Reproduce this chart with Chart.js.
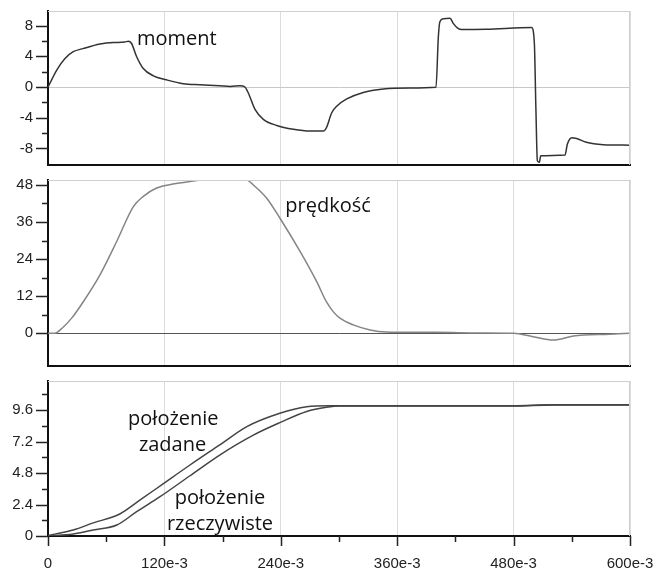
<!DOCTYPE html>
<html>
<head>
<meta charset="utf-8">
<script src="https://cdn.jsdelivr.net/npm/chart.js@4.4.0/dist/chart.umd.min.js"></script>
<style>
  body { margin: 0; background: #fff; }
  #wrap { position: relative; width: 655px; height: 571px; }
  canvas { position: absolute; left: 0; }
</style>
</head>
<body>
<div id="wrap">
  <canvas id="c1" width="655" height="170" style="top:0px"></canvas>
  <canvas id="c2" width="655" height="200" style="top:170px"></canvas>
  <canvas id="c3" width="655" height="201" style="top:370px"></canvas>
</div>
<script>
// time in ms (x axis labelled as e-3)
const xTicks = [0, 60, 120, 180, 240, 300, 360, 420, 480, 540, 600];

// moment
const momentT = [0, 4, 9, 17.5, 26, 36, 53.6, 67, 79, 82.8, 86, 91.4, 98, 108.6, 122, 139.5, 156.7, 177, 188, 198, 203,
  206.5, 213.4, 222, 235.8, 253, 270, 284, 287, 292.5, 297.6, 308, 325, 345.7, 373, 400, 402.4, 404, 407.6, 414.4,
  418, 422, 426.5, 452, 498.6, 501.4, 503, 504.5, 506.5, 508, 533, 535.4, 540, 545, 555, 572.5, 600];
const momentV = [0, 1.0, 2.2, 3.7, 4.6, 5.0, 5.6, 5.8, 5.85, 5.97, 5.7, 3.95, 2.45, 1.46, 0.94, 0.43, 0.3, 0.17, 0.08, 0.17, 0,
  -0.77, -2.9, -4.2, -5.0, -5.5, -5.73, -5.73, -5.3, -3.35, -2.5, -1.55, -0.7, -0.26, -0.13, -0.03, 6.5, 8.5, 8.9, 8.94,
  8.26, 7.7, 7.48, 7.52, 7.74, 5.7, -2.9, -9.6, -9.8, -8.95, -8.86, -7.45, -6.6, -6.7, -7.2, -7.5, -7.57];
const momentTicks = [-8, -6, -4, -2, 0, 2, 4, 6, 8];
const momentLabels = [-8, -4, 0, 4, 8];

// prędkość
const speedT = [0, 7, 15, 24.4, 36.4, 53.6, 70.8, 88, 98.3, 112, 129, 153, 170, 200, 205, 211.7, 225.5, 239, 260, 277,
  287, 294, 301, 314.7, 332, 349, 375, 400, 445, 480, 500, 521, 541.6, 579, 600];
const speedV = [0, 0, 1.8, 4.9, 10.2, 18.9, 29.7, 41, 44.3, 47, 48.3, 49.4, 50.2, 50.2, 49.7, 48, 43.7, 37.3, 26.4, 16.7,
  10.2, 7.0, 4.9, 2.7, 1.07, 0.4, 0.3, 0.3, 0.1, 0, -1.1, -2.2, -0.9, -0.3, 0];
const speedTicks = [0, 6, 12, 18, 24, 30, 36, 42, 48];
const speedLabels = [0, 12, 24, 36, 48];

// położenie zadane / rzeczywiste
const posSetT = [0, 2, 26, 46.7, 74, 95, 119, 146, 177, 205, 239, 266.7, 290, 301, 480, 520, 600];
const posSetV = [0, 0.05, 0.46, 1.0, 1.68, 2.75, 4.0, 5.4, 6.95, 8.35, 9.37, 9.87, 9.95, 9.95, 9.95, 10.02, 10.02];
const posActT = [0, 26, 46.7, 71, 91.4, 115.5, 146, 177, 211.7, 239, 266.7, 287, 301, 480, 520, 600];
const posActV = [0, 0.15, 0.46, 0.84, 1.86, 3.0, 4.58, 6.18, 7.7, 8.65, 9.5, 9.82, 9.92, 9.92, 10.0, 10.0];
const posTicks = [0, 1.2, 2.4, 3.6, 4.8, 6.0, 7.2, 8.4, 9.6, 10.8];
const posLabels = [0, 2.4, 4.8, 7.2, 9.6];

const pts = (t, v) => t.map((x, i) => ({ x: x, y: v[i] }));
const tickFont = { family: 'Liberation Sans', size: 15 };
const noPad = s => { s.paddingTop = 0; s.paddingBottom = 0; s.paddingLeft = 0; s.paddingRight = 0; };

// frame, small ticks and the text notes
const frame = {
  id: 'frame',
  afterDraw(chart, args, opts) {
    const { ctx, chartArea: a, scales } = chart;
    ctx.save();
    ctx.strokeStyle = '#cfcfcf';
    ctx.lineWidth = 1;
    ctx.beginPath();
    ctx.moveTo(a.left, a.top + 0.5); ctx.lineTo(a.right, a.top + 0.5);
    ctx.moveTo(a.right - 0.5, a.top); ctx.lineTo(a.right - 0.5, a.bottom);
    ctx.stroke();

    ctx.strokeStyle = '#222';
    ctx.lineWidth = 1.5;
    ctx.beginPath();
    scales.y.ticks.forEach(t => {
      const y = Math.round(scales.y.getPixelForValue(t.value)) + 0.5;
      const len = t.label !== '' ? 12 : 6;
      ctx.moveTo(a.left - len, y); ctx.lineTo(a.left, y);
    });
    if (opts.xTicks) {
      scales.x.ticks.forEach(t => {
        const x = Math.round(scales.x.getPixelForValue(t.value)) + 0.5;
        const len = t.label !== '' ? 10 : 6;
        ctx.moveTo(x, a.bottom); ctx.lineTo(x, a.bottom + len);
      });
    }
    ctx.stroke();

    ctx.fillStyle = '#111';
    ctx.font = '20px "Open Sans"';
    (opts.notes || []).forEach(n => {
      ctx.textAlign = n.align || 'center';
      ctx.textBaseline = 'alphabetic';
      ctx.fillText(n.text, scales.x.getPixelForValue(n.x), scales.y.getPixelForValue(n.y));
    });
    ctx.restore();
  }
};

function makePanel(id, datasets, yMin, yMax, yTicks, yLabels, zeroColor, pad, showX, notes) {
  return new Chart(document.getElementById(id), {
    type: 'line',
    data: { datasets: datasets },
    options: {
      responsive: false,
      animation: false,
      layout: { padding: pad },
      plugins: { legend: { display: false }, tooltip: { enabled: false }, frame: { xTicks: showX, notes: notes } },
      elements: { point: { radius: 0 } },
      scales: {
        x: {
          type: 'linear',
          min: 0,
          max: 600,
          afterBuildTicks: s => { s.ticks = xTicks.map(v => ({ value: v })); },
          afterFit: s => { s.height = showX ? 35 : 0; noPad(s); },
          border: { color: '#111', width: 2 },
          grid: {
            drawTicks: false,
            color: c => (c.tick && c.tick.value % 120 === 0) ? '#dcdcdc' : 'rgba(0,0,0,0)'
          },
          ticks: {
            display: showX,
            autoSkip: false,
            maxRotation: 0,
            padding: 19,
            color: '#222',
            font: tickFont,
            callback: v => v % 120 !== 0 ? '' : (v === 0 ? '0' : v + 'e-3')
          }
        },
        y: {
          min: yMin,
          max: yMax,
          afterBuildTicks: s => { s.ticks = yTicks.map(v => ({ value: v })); },
          afterFit: s => { s.width = 48; noPad(s); },
          border: { color: '#111', width: 2 },
          grid: {
            drawTicks: false,
            color: c => (zeroColor && c.tick && c.tick.value === 0) ? zeroColor : 'rgba(0,0,0,0)'
          },
          ticks: {
            autoSkip: false,
            padding: 15,
            color: '#222',
            font: tickFont,
            callback: v => yLabels.includes(v) ? String(v) : ''
          }
        }
      }
    },
    plugins: [frame]
  });
}

makePanel('c1', [{
  data: pts(momentT, momentV), borderColor: '#333', borderWidth: 1.5, cubicInterpolationMode: 'monotone'
}], -10.15, 9.9, momentTicks, momentLabels, '#c8c8c8', { left: 0, right: 25, top: 11, bottom: 5 }, false,
  [{ text: 'moment', x: 132.7, y: 5.53 }]);

makePanel('c2', [{
  data: pts(speedT, speedV), borderColor: '#858585', borderWidth: 1.5, cubicInterpolationMode: 'monotone'
}], -10.6, 49.6, speedTicks, speedLabels, '#555', { left: 0, right: 25, top: 10, bottom: 4 }, false,
  [{ text: 'prędkość', x: 288.7, y: 39.4 }]);

makePanel('c3', [
  { data: pts(posSetT, posSetV), borderColor: '#444', borderWidth: 1.5, cubicInterpolationMode: 'monotone' },
  { data: pts(posActT, posActV), borderColor: '#444', borderWidth: 1.5, cubicInterpolationMode: 'monotone' }
], 0, 11.83, posTicks, posLabels, null, { left: 0, right: 25, top: 11, bottom: 0 }, true,
  [{ text: 'położenie', x: 129.2, y: 8.46 }, { text: 'zadane', x: 128.4, y: 6.48 },
   { text: 'położenie', x: 177.3, y: 2.42 }, { text: 'rzeczywiste', x: 177.3, y: 0.46 }]);
</script>
</body>
</html>
